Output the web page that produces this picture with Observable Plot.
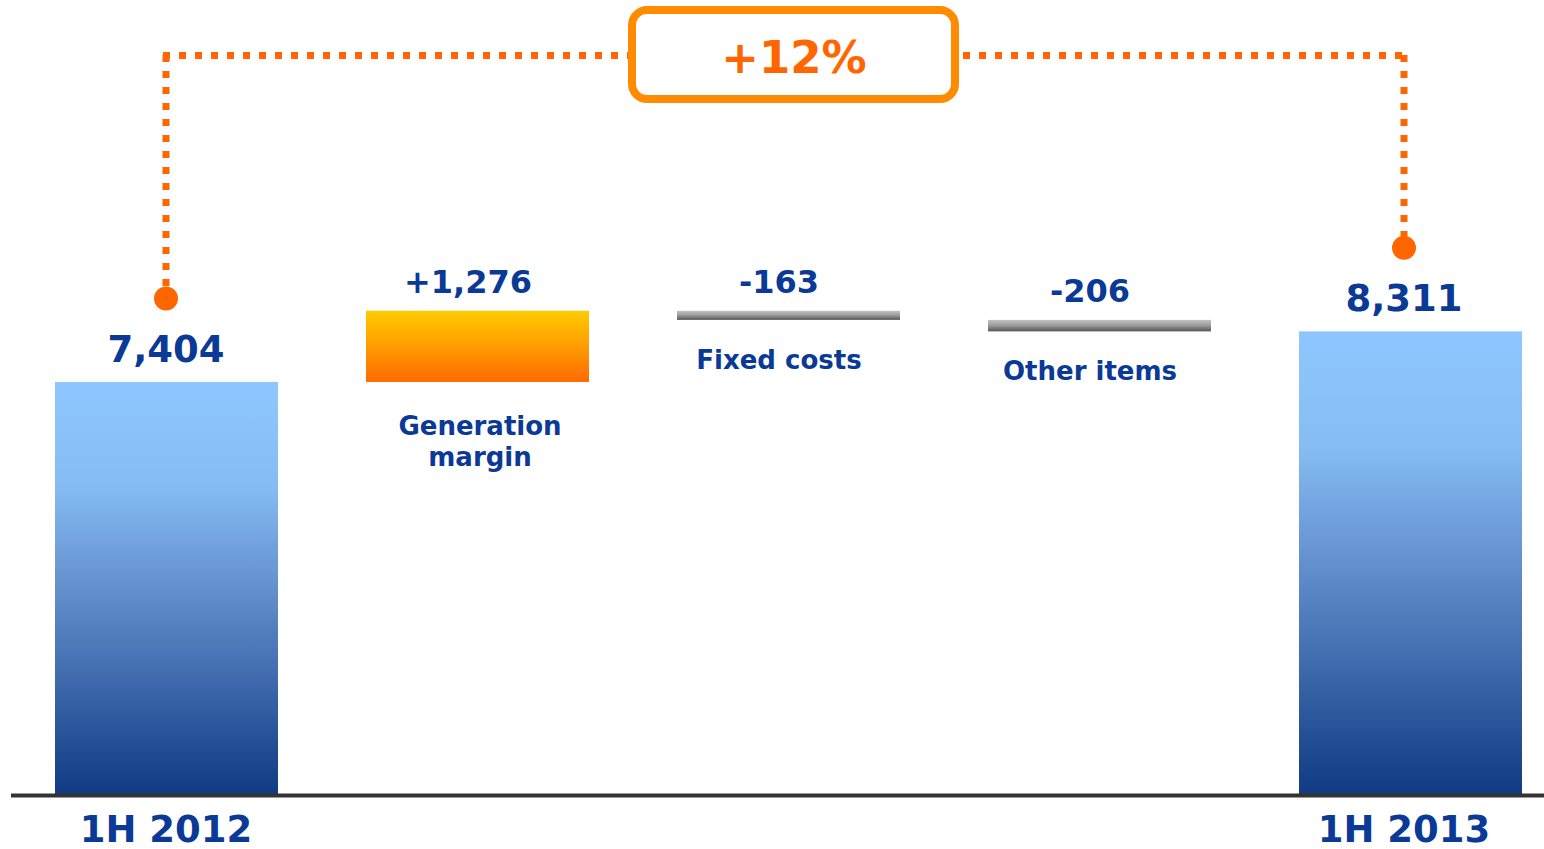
<!DOCTYPE html>
<html><head><meta charset="utf-8">
<script src="https://cdn.jsdelivr.net/npm/d3@7"></script>
<script src="https://cdn.jsdelivr.net/npm/@observablehq/plot@0.6"></script>
<style>
body{margin:0;background:#fff;}
#chart svg{display:block;}
</style></head><body><div id="chart"></div>
<script>
// ---- data ----
const categories = ["1H 2012", "Generation margin", "Fixed costs", "Other items", "1H 2013"];
const values = [7404, 1276, -163, -206, 8311];
const kinds = ["total", "delta", "delta", "delta", "total"];
// annotation levels (data units on the y scale)
const bracketLevel = 13265;
const boxTop = 14070, boxBottom = 12475;

let run = 0;
const data = categories.map((cat, i) => {
  const v = values[i];
  let y1, y2;
  if (kinds[i] === "total") { y1 = 0; y2 = v; run = v; }
  else { y1 = run; y2 = run + v; run = y2; }
  return {cat, value: v, kind: kinds[i], y1, y2, lo: Math.min(y1, y2), hi: Math.max(y1, y2)};
});
const totals = data.filter(d => d.kind === "total");
const deltas = data.filter(d => d.kind === "delta");
const growth = totals[1].value / totals[0].value - 1;
const growthLabel = (growth >= 0 ? "+" : "-") + Math.round(Math.abs(growth) * 100) + "%";
const fmt = d3.format(",");
const deltaLabel = v => (v > 0 ? "+" : "-") + fmt(Math.abs(v));

const font = "'DejaVu Sans', Verdana, sans-serif";
const blue = "#0a3996";
const orange = "#ff6600";
const dotted = {stroke: orange, strokeWidth: 7, strokeDasharray: "7,9", strokeLinecap: "butt", strokeLinejoin: "miter"};
const txt = {fontWeight: "bold", fill: blue};

const first = [totals[0]], last = [totals[1]];
const multiLine = deltas.filter(d => d.cat.length > 12);
const singleLine = deltas.filter(d => d.cat.length <= 12);

const chart = Plot.plot({
  width: 1544, height: 849,
  marginLeft: 11, marginRight: 0, marginTop: 14, marginBottom: 54,
  x: {type: "band", domain: categories, range: [54, 1522], paddingInner: 0.283, paddingOuter: 0, axis: null},
  y: {domain: [0, 14000], axis: null},
  style: {fontFamily: font, background: "#fff", overflow: "visible"},
  marks: [
    Plot.barY(totals, {x: "cat", y1: "y1", y2: "y2", fill: "url(#gBlue)"}),
    Plot.barY(deltas.filter(d => d.value > 0), {x: "cat", y1: "y1", y2: "y2", fill: "url(#gOrange)"}),
    Plot.barY(deltas.filter(d => d.value < 0), {x: "cat", y1: "y1", y2: "y2", fill: "url(#gGray)"}),
    Plot.ruleY([0], {stroke: "#333", strokeWidth: 4}),
    // bracket
    Plot.ruleX(first, {x: "cat", y1: () => bracketLevel, y2: "value", insetBottom: 84, dx: -1, ...dotted}),
    Plot.ruleX(last, {x: "cat", y1: () => bracketLevel, y2: "value", insetBottom: 84, dx: -7, ...dotted}),
    Plot.line([{cat: categories[0]}, {cat: categories[4]}], {x: "cat", y: () => bracketLevel, dx: -4, ...dotted}),
    Plot.dot(first, {x: "cat", y: "value", dy: -84, dx: -1, r: 12, fill: orange}),
    Plot.dot(last, {x: "cat", y: "value", dy: -84, dx: -7, r: 12, fill: orange}),
    Plot.barY([growthLabel], {x: () => categories[2], y1: () => boxBottom, y2: () => boxTop,
      insetLeft: -45, insetRight: -55, rx: 15, fill: "#fff", stroke: "#ff8c00", strokeWidth: 8}),
    Plot.text([growthLabel], {x: () => categories[2], y: () => bracketLevel, text: d => d,
      dx: 5, dy: 3, fontSize: 45, fontWeight: "bold", fill: orange}),
    // value labels
    Plot.text(first, {x: "cat", y: "value", text: d => fmt(d.value), lineAnchor: "bottom", dy: -20, dx: -1, fontSize: 37, ...txt}),
    Plot.text(last, {x: "cat", y: "value", text: d => fmt(d.value), lineAnchor: "bottom", dy: -21, dx: -7, fontSize: 37, ...txt}),
    Plot.text(deltas, {x: "cat", y: "hi", text: d => deltaLabel(d.value), lineAnchor: "bottom", dy: -18, dx: -10,
      fontSize: 32, ...txt}),
    // category labels
    Plot.text(multiLine, {x: "cat", y: "lo", text: "cat", lineAnchor: "top", dy: 30, dx: 2, lineWidth: 7, lineHeight: 1.2,
      fontSize: 26, ...txt}),
    Plot.text(singleLine, {x: "cat", y: "lo", text: "cat", lineAnchor: "top", dy: 30, dx: -10, fontSize: 26, ...txt}),
    Plot.text(first, {x: "cat", y: () => 0, text: "cat", lineAnchor: "bottom", dy: 46, dx: -1, fontSize: 37, ...txt}),
    Plot.text(last, {x: "cat", y: () => 0, text: "cat", lineAnchor: "bottom", dy: 46, dx: -7, fontSize: 37, ...txt})
  ]
});

const defs = document.createElementNS("http://www.w3.org/2000/svg", "defs");
defs.innerHTML = `
<linearGradient id="gBlue" x1="0" y1="0" x2="0" y2="1">
  <stop offset="0" stop-color="#8ec7ff"/>
  <stop offset="0.25" stop-color="#86bcf3"/>
  <stop offset="0.55" stop-color="#5c87c6"/>
  <stop offset="1" stop-color="#103a82"/>
</linearGradient>
<linearGradient id="gOrange" x1="0" y1="0" x2="0" y2="1">
  <stop offset="0" stop-color="#ffcc00"/>
  <stop offset="0.5" stop-color="#ff9c00"/>
  <stop offset="1" stop-color="#ff6a00"/>
</linearGradient>
<linearGradient id="gGray" x1="0" y1="0" x2="0" y2="1">
  <stop offset="0" stop-color="#c4c4c4"/>
  <stop offset="0.5" stop-color="#9a9a9a"/>
  <stop offset="1" stop-color="#555555"/>
</linearGradient>`;
chart.insertBefore(defs, chart.firstChild);
document.getElementById("chart").appendChild(chart);
</script>
</body></html>
